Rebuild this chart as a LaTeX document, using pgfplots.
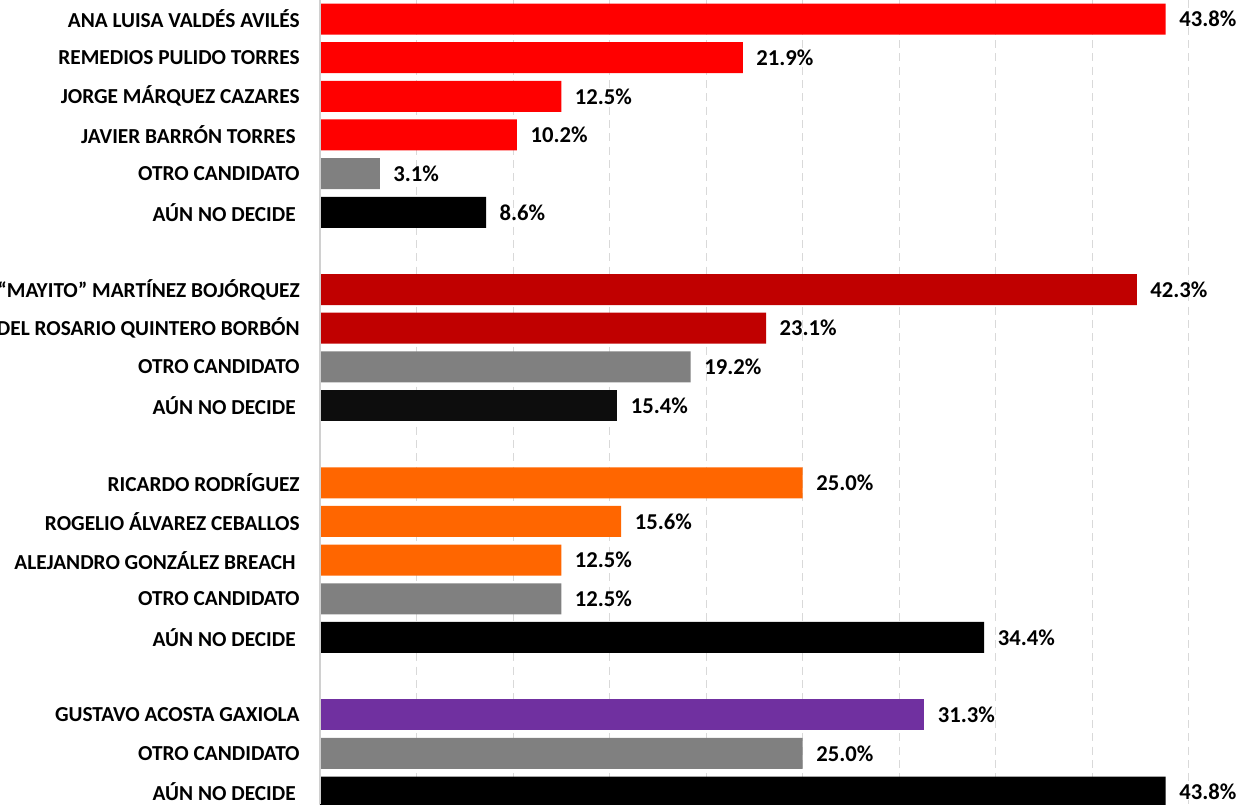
\documentclass[border=0pt]{standalone}
\usepackage{pgfplots}
\pgfplotsset{compat=1.18}
\usepackage{fontspec}
\setmainfont{Carlito}
\definecolor{cRed}{HTML}{FF0000}
\definecolor{cDark}{HTML}{C00000}
\definecolor{cGray}{HTML}{808080}
\definecolor{cBlack}{HTML}{000000}
\definecolor{cBlack2}{HTML}{0D0D0D}
\definecolor{cOrange}{HTML}{FF6600}
\definecolor{cPurple}{HTML}{7030A0}
\definecolor{gridgray}{HTML}{D9D9D9}
\definecolor{axisgray}{HTML}{D0D0D0}
\begin{document}
\begin{tikzpicture}
\begin{axis}[
  x=14.4825pt, y=28.99pt, y dir=reverse,
  xmin=0, xmax=48.63, ymin=-0.4916, ymax=20.31,
  axis line style={draw=none},
  xbar, bar width=23.25pt, bar shift=0pt,
  xtick={5,10,...,45}, xticklabels={}, xmajorgrids,
  major grid style={draw=gridgray, line width=0.75pt, dash pattern=on 6pt off 4pt},
  major tick length=0pt,
  /pgf/number format/assume math mode=true,
  ytick={0,1,2,3,4,5,7,8,9,10,12,13,14,15,16,18,19,20},
  yticklabels={ANA LUISA VALDÉS AVILÉS, REMEDIOS PULIDO TORRES, JORGE MÁRQUEZ CAZARES, JAVIER BARRÓN TORRES\hspace*{3pt}, OTRO CANDIDATO, AÚN NO DECIDE\hspace*{3pt},
    “MAYITO” MARTÍNEZ BOJÓRQUEZ, DEL ROSARIO QUINTERO BORBÓN, OTRO CANDIDATO, AÚN NO DECIDE\hspace*{3pt},
    RICARDO RODRÍGUEZ, ROGELIO ÁLVAREZ CEBALLOS, ALEJANDRO GONZÁLEZ BREACH\hspace*{3pt}, OTRO CANDIDATO, AÚN NO DECIDE\hspace*{3pt},
    GUSTAVO ACOSTA GAXIOLA, OTRO CANDIDATO, AÚN NO DECIDE\hspace*{3pt}},
  yticklabel style={font=\bfseries\fontsize{16}{18}\selectfont, inner sep=0pt, xshift=-15pt, text=black},
  point meta=x,
  nodes near coords={\pgfmathprintnumber[fixed,fixed zerofill,precision=1,assume math mode=true]{\pgfplotspointmeta}\%},
  nodes near coords style={font=\bfseries\fontsize{17}{19}\selectfont, inner sep=0pt, xshift=10pt, text=black},
  clip=false,
]
\addplot[fill=cRed, draw=none] coordinates {(43.8,0) (21.9,1) (12.5,2) (10.2,3)};
\addplot[fill=cGray, draw=none] coordinates {(3.1,4) (19.2,9) (12.5,15) (25.0,19)};
\addplot[fill=cBlack, draw=none] coordinates {(8.6,5) (34.4,16) (43.8,20)};
\addplot[fill=cBlack2, draw=none] coordinates {(15.4,10)};
\addplot[fill=cDark, draw=none] coordinates {(42.3,7) (23.1,8)};
\addplot[fill=cOrange, draw=none] coordinates {(25.0,12) (15.6,13) (12.5,14)};
\addplot[fill=cPurple, draw=none] coordinates {(31.3,18)};
\draw[axisgray, line width=1.2pt] (axis cs:0,-0.4916) -- (axis cs:0,20.31);
\coordinate (tl) at (axis cs:-16.57,-0.4916);
\coordinate (br) at (axis cs:48.63,20.31);
\end{axis}
\pgfresetboundingbox
\useasboundingbox (tl) rectangle (br);
\end{tikzpicture}
\end{document}
